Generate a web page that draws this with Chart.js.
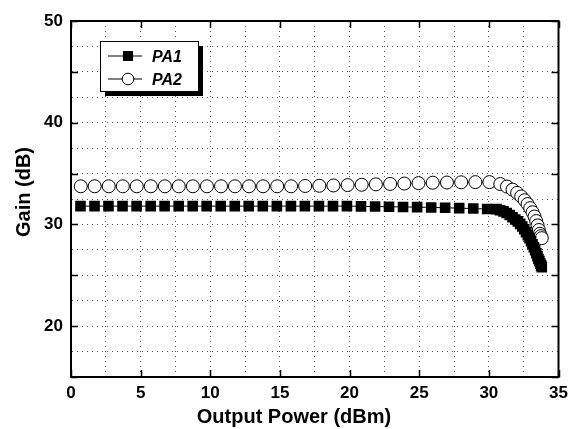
<!DOCTYPE html>
<html>
<head>
<meta charset="utf-8">
<script src="https://cdn.jsdelivr.net/npm/chart.js@4.4.1/dist/chart.umd.min.js"></script>
<style>
html,body{margin:0;padding:0;background:#fff;}
#wrap{width:569px;height:429px;}
</style>
</head>
<body>
<div id="wrap"><canvas id="c" width="569" height="429"></canvas></div>
<script>
// ---- data ----
const seriesNames = ['PA1', 'PA2'];

const pa1X = [0.68, 1.69, 2.69, 3.70, 4.71, 5.72, 6.72, 7.73, 8.74, 9.74,
  10.75, 11.76, 12.76, 13.77, 14.78, 15.79, 16.79, 17.80, 18.81, 19.81,
  20.82, 21.83, 22.83, 23.84, 24.85, 25.86, 26.86, 27.87, 28.88, 29.88,
  30.55, 30.80, 31.05, 31.28, 31.50, 31.70, 31.90, 32.08, 32.25, 32.40,
  32.54, 32.67, 32.80, 32.92, 33.03, 33.13, 33.23, 33.32, 33.41, 33.49,
  33.56, 33.63, 33.70, 33.76, 33.80];
const pa1Y = [31.80, 31.80, 31.80, 31.80, 31.80, 31.80, 31.80, 31.80, 31.80, 31.80,
  31.80, 31.80, 31.80, 31.80, 31.80, 31.80, 31.80, 31.80, 31.80, 31.80,
  31.78, 31.76, 31.74, 31.72, 31.70, 31.67, 31.64, 31.60, 31.56, 31.52,
  31.50, 31.40, 31.28, 31.12, 30.92, 30.70, 30.48, 30.30, 30.05, 29.80,
  29.52, 29.24, 28.95, 28.65, 28.35, 28.05, 27.75, 27.47, 27.17, 26.87,
  26.60, 26.40, 26.15, 25.95, 25.80];

const pa2X = [0.70, 1.70, 2.71, 3.72, 4.72, 5.73, 6.74, 7.74, 8.75, 9.76,
  10.77, 11.77, 12.78, 13.79, 14.80, 15.80, 16.81, 17.83, 18.84, 19.86,
  20.87, 21.89, 22.91, 23.93, 24.95, 25.97, 26.99, 28.01, 29.03, 30.04,
  30.82, 31.30, 31.70, 32.03, 32.32, 32.57, 32.78, 32.97, 33.14, 33.28,
  33.40, 33.50, 33.59, 33.67, 33.74, 33.80];
const pa2Y = [33.75, 33.75, 33.75, 33.75, 33.75, 33.75, 33.75, 33.75, 33.75, 33.75,
  33.75, 33.75, 33.75, 33.75, 33.75, 33.75, 33.78, 33.80, 33.83, 33.87,
  33.90, 33.94, 33.98, 34.02, 34.06, 34.10, 34.12, 34.14, 34.16, 34.16,
  33.97, 33.72, 33.42, 33.10, 32.75, 32.38, 32.00, 31.60, 31.20, 30.78,
  30.33, 29.90, 29.45, 29.08, 28.85, 28.65];

const xTickValues = [0, 5, 10, 15, 20, 25, 30, 35];
const xTickLabels = ['0', '5', '10', '15', '20', '25', '30', '35'];
const yTickValues = [20, 30, 40, 50];
const yTickLabels = ['20', '30', '40', '50'];
const yMajorTickValues = [15, 20, 25, 30, 35, 40, 45, 50];
const xAxisTitle = 'Output Power (dBm)';
const yAxisTitle = 'Gain (dB)';

// ---- rendering ----
const FONT = '"Liberation Sans", Arial, Helvetica, sans-serif';
const toPoints = (xs, ys) => xs.map((x, i) => ({x: x, y: ys[i]}));

const framePlugin = {
  id: 'frame',
  afterDraw(chart) {
    const ctx = chart.ctx;
    const a = chart.chartArea;
    const xs = chart.scales.x, ys = chart.scales.y;
    ctx.save();
    // inside tick marks
    ctx.strokeStyle = '#000';
    ctx.lineWidth = 1.5;
    xTickValues.forEach(v => {
      const px = Math.round(xs.getPixelForValue(v)) + 0.5;
      ctx.beginPath();
      ctx.moveTo(px, a.bottom); ctx.lineTo(px, a.bottom - 7);
      ctx.moveTo(px, a.top); ctx.lineTo(px, a.top + 7);
      ctx.stroke();
    });
    yMajorTickValues.forEach(v => {
      const py = Math.round(ys.getPixelForValue(v)) + 0.5;
      ctx.beginPath();
      ctx.moveTo(a.left, py); ctx.lineTo(a.left + 7, py);
      ctx.moveTo(a.right, py); ctx.lineTo(a.right - 7, py);
      ctx.stroke();
    });
    // frame
    ctx.lineWidth = 2;
    ctx.strokeRect(a.left, a.top, a.right - a.left, a.bottom - a.top);

    // axis titles
    ctx.fillStyle = '#000';
    ctx.font = 'bold 20px ' + FONT;
    ctx.textAlign = 'center';
    ctx.textBaseline = 'alphabetic';
    ctx.fillText(xAxisTitle, 294, 423);
    ctx.save();
    ctx.translate(30, 192);
    ctx.rotate(-Math.PI / 2);
    ctx.fillText(yAxisTitle, 0, 0);
    ctx.restore();

    // legend
    const lx = 100, ly = 41, lw = 98, lh = 50;
    ctx.fillStyle = '#000';
    ctx.fillRect(lx + 5, ly + 5, lw, lh);
    ctx.fillStyle = '#fff';
    ctx.fillRect(lx, ly, lw, lh);
    ctx.strokeStyle = '#000';
    ctx.lineWidth = 1;
    ctx.strokeRect(lx + 0.5, ly + 0.5, lw, lh);
    const rows = [56, 79];
    rows.forEach((ry, i) => {
      ctx.beginPath();
      ctx.lineWidth = 1.2;
      ctx.moveTo(108, ry); ctx.lineTo(142, ry);
      ctx.stroke();
      if (i === 0) {
        ctx.fillStyle = '#000';
        ctx.fillRect(128 - 5, ry - 5, 10, 10);
      } else {
        ctx.beginPath();
        ctx.arc(128, ry, 5.8, 0, Math.PI * 2);
        ctx.fillStyle = '#fff';
        ctx.fill();
        ctx.lineWidth = 1;
        ctx.stroke();
      }
      ctx.fillStyle = '#000';
      ctx.font = 'italic bold 16px ' + FONT;
      ctx.textAlign = 'left';
      ctx.textBaseline = 'alphabetic';
      ctx.fillText(seriesNames[i], 152, ry + 5.5);
    });
    ctx.restore();
  }
};

const tickFont = {family: FONT, size: 17, weight: 'bold'};

new Chart(document.getElementById('c'), {
  type: 'line',
  data: {
    datasets: [
      {
        label: seriesNames[0],
        data: toPoints(pa1X, pa1Y),
        showLine: true,
        borderColor: '#000',
        borderWidth: 1,
        tension: 0,
        fill: false,
        pointStyle: 'rect',
        pointRadius: 7.5,
        pointBackgroundColor: '#000',
        pointBorderColor: '#000',
        pointBorderWidth: 0
      },
      {
        label: seriesNames[1],
        data: toPoints(pa2X, pa2Y),
        showLine: true,
        borderColor: '#000',
        borderWidth: 1,
        tension: 0,
        fill: false,
        pointStyle: 'circle',
        pointRadius: 6.5,
        pointBackgroundColor: '#fff',
        pointBorderColor: '#000',
        pointBorderWidth: 1
      }
    ]
  },
  options: {
    responsive: false,
    animation: false,
    devicePixelRatio: 1,
    layout: {padding: {top: 21, right: 10.5, left: 0, bottom: 0}},
    plugins: {legend: {display: false}, tooltip: {enabled: false}},
    scales: {
      x: {
        type: 'linear',
        min: 0, max: 35,
        afterFit(s) { s.height = 52; s.paddingLeft = 0; s.paddingRight = 0; },
        ticks: {
          stepSize: 2.5, autoSkip: false, maxRotation: 0, padding: 6,
          color: '#000', font: tickFont,
          callback(v) { const i = xTickValues.indexOf(v); return i >= 0 ? xTickLabels[i] : ''; }
        },
        grid: {color: '#555', lineWidth: 1, drawTicks: false, borderDash: [1, 4]},
        border: {display: true, color: '#000', width: 2, dash: [1, 4]}
      },
      y: {
        type: 'linear',
        min: 15, max: 50,
        afterFit(s) { s.width = 71; s.paddingTop = 0; s.paddingBottom = 0; },
        ticks: {
          stepSize: 2.5, autoSkip: false, padding: 8,
          color: '#000', font: tickFont,
          callback(v) { const i = yTickValues.indexOf(v); return i >= 0 ? yTickLabels[i] : ''; }
        },
        grid: {color: '#555', lineWidth: 1, drawTicks: false, borderDash: [1, 4]},
        border: {display: true, color: '#000', width: 2, dash: [1, 4]}
      }
    }
  },
  plugins: [framePlugin]
});
</script>
</body>
</html>
